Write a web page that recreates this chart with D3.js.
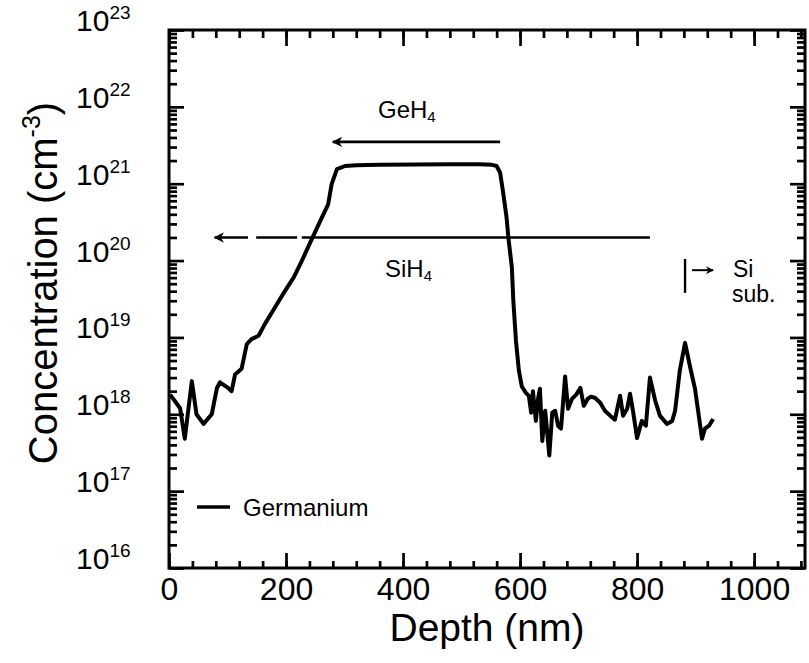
<!DOCTYPE html>
<html>
<head>
<meta charset="utf-8">
<script src="https://cdn.jsdelivr.net/npm/d3@7"></script>
<style>
  body { margin: 0; background: #fff; }
  svg { display: block; font-family: "Liberation Sans", Arial, Helvetica, sans-serif; }
</style>
</head>
<body>
<div id="graph"></div>
<script>
// SIMS depth profile
const depthNm = [
    2, 19, 27, 39, 47, 59, 73, 82, 87, 101, 107, 113, 124, 133, 141, 153, 164, 181, 198, 213,
    227, 244, 261, 272, 278, 287, 301, 320, 360, 420, 480, 530, 552, 560, 566, 571.5, 577, 580,
    586, 588.5, 593, 598, 603, 610, 615, 619, 622, 627, 631, 634, 638, 643, 650, 655, 660, 665,
    670, 677, 682, 689, 696, 703, 709, 716, 721, 728, 737, 745, 754, 762, 771, 776, 783, 788,
    793, 800, 808, 815, 822, 831, 839, 851, 860, 865, 873, 882, 891, 899, 911, 916, 923, 930
];
const germanium = [
    1.8e18, 1.2e18, 4.8e17, 2.7e18, 1.0e18, 7.5e17, 1.0e18, 2.2e18, 2.6e18, 2.2e18, 2.0e18, 3.3e18,
    3.9e18, 8.2e18, 9.5e18, 1.05e19, 1.5e19, 2.45e19, 4.0e19, 6.0e19, 9.9e19, 1.9e20, 3.6e20, 5.4e20,
    9.9e20, 1.55e21, 1.7e21, 1.74e21, 1.76e21, 1.78e21, 1.79e21, 1.79e21, 1.76e21, 1.7e21, 1.39e21,
    7.3e20, 3.6e20, 2.0e20, 8.1e19, 3.0e19, 9.0e18, 3.7e18, 2.3e18, 1.9e18, 1.74e18, 1.05e18, 2.0e18,
    8.2e17, 1.64e18, 2.15e18, 4.5e17, 1.11e18, 2.9e17, 1.05e18, 1.11e18, 7.1e17, 6.5e17, 3.1e18,
    1.18e18, 1.6e18, 1.8e18, 2.2e18, 1.29e18, 1.6e18, 1.69e18, 1.64e18, 1.41e18, 1.11e18, 9.6e17,
    8.5e17, 1.74e18, 9.6e17, 1.18e18, 1.85e18, 1.11e18, 4.9e17, 8.2e17, 7.1e17, 3.0e18, 1.5e18,
    9.6e17, 7.5e17, 8.2e17, 1.11e18, 3.7e18, 8.5e18, 4.0e18, 2.15e18, 4.8e17, 6.5e17, 7.1e17, 8.7e17
];

const xTickLabels = [0, 200, 400, 600, 800, 1000];
const yExponents = [16, 17, 18, 19, 20, 21, 22, 23];

// annotations, in data units (nm, cm^-3)
const gehArrow = [566, 280];
const gehLevel = 3.5e21;
const sihArrow = [822, 78];
const sihGaps = [[135, 149], [219, 227]];
const sihLevel = 2.0e20;
const subMarker = [882, 1.05e20, 3.8e19];
const subArrow = [894, 930, 7.5e19];

const width = 809;
const height = 663;
const xMax = 1087;

const xScale = d3.scaleLinear()
    .domain([0, xMax])
    .range([169, 805]);

const yScale = d3.scaleLog()
    .domain([1e16, 1e23])
    .range([568, 30]);

const svg = d3.select('#graph')
    .append('svg')
    .attr('width', width)
    .attr('height', height);

const [x0, x1] = xScale.range();
const [y0, y1] = yScale.range();

// tick positions
const xMinor = d3.range(0, xMax, 40);
const yMinor = [];
yExponents.slice(0, -1).forEach(e => {
    for (let k = 2; k < 10; k++) yMinor.push(k * Math.pow(10, e));
});
const yMajor = yExponents.map(e => Math.pow(10, e));
const noLabel = () => '';

const styleTicks = g => {
    g.select('.domain').remove();
    g.selectAll('line').attr('stroke', '#000').attr('stroke-width', 2.7);
};

const addAxis = (axis, transform) => svg.append('g')
    .attr('transform', transform)
    .call(axis)
    .call(styleTicks);

// minor + major ticks on all four sides, pointing in
addAxis(d3.axisBottom(xScale).tickValues(xMinor).tickSize(-7).tickFormat(noLabel), `translate(0,${y0})`);
addAxis(d3.axisTop(xScale).tickValues(xMinor).tickSize(-8).tickFormat(noLabel), `translate(0,${y1})`);
addAxis(d3.axisTop(xScale).tickValues(xTickLabels).tickSize(-16).tickFormat(noLabel), `translate(0,${y1})`);
addAxis(d3.axisLeft(yScale).tickValues(yMinor).tickSize(-8).tickFormat(noLabel), `translate(${x0},0)`);
addAxis(d3.axisLeft(yScale).tickValues(yMajor).tickSize(-15).tickFormat(noLabel), `translate(${x0},0)`);
addAxis(d3.axisRight(yScale).tickValues(yMinor).tickSize(-8).tickFormat(noLabel), `translate(${x1},0)`);
addAxis(d3.axisRight(yScale).tickValues(yMajor).tickSize(-15).tickFormat(noLabel), `translate(${x1},0)`);

const xAxis = addAxis(
    d3.axisBottom(xScale).tickValues(xTickLabels).tickSize(-15).tickPadding(9).tickFormat(d3.format('d')),
    `translate(0,${y0})`
);
xAxis.attr('font-size', null).attr('font-family', null);
xAxis.selectAll('text').attr('font-size', 32).attr('fill', '#000');

// frame
svg.append('rect')
    .attr('x', x0).attr('y', y1)
    .attr('width', x1 - x0).attr('height', y0 - y1)
    .attr('fill', 'none')
    .attr('stroke', '#000')
    .attr('stroke-width', 3);

// y tick labels 10^n
const yLabels = svg.append('g')
    .selectAll('text')
    .data(yExponents)
    .join('text')
    .attr('x', 76)
    .attr('y', d => yScale(Math.pow(10, d)) + 1)
    .attr('font-size', 30);
yLabels.append('tspan').text('10');
yLabels.append('tspan').attr('dy', -12).attr('font-size', 19).text(d => d);

// axis titles
svg.append('text')
    .attr('x', (x0 + x1) / 2)
    .attr('y', 641)
    .attr('text-anchor', 'middle')
    .attr('font-size', 39)
    .text('Depth (nm)');

const yTitle = svg.append('text')
    .attr('transform', `translate(57,${(y0 + y1) / 2 - 16}) rotate(-90)`)
    .attr('text-anchor', 'middle')
    .attr('font-size', 40);
yTitle.append('tspan').text('Concentration (cm');
yTitle.append('tspan').attr('dy', -17).attr('font-size', 25).text('-3');
yTitle.append('tspan').attr('dy', 17).text(')');

// arrowhead, pointing along the line direction
svg.append('defs').append('marker')
    .attr('id', 'head')
    .attr('viewBox', '0 0 10 10')
    .attr('refX', 9).attr('refY', 5)
    .attr('markerWidth', 4.5).attr('markerHeight', 4)
    .attr('markerUnits', 'strokeWidth')
    .attr('orient', 'auto')
    .append('path')
    .attr('d', 'M10,5 L0,0 L3,5 L0,10 Z')
    .attr('fill', '#000');

// GeH4 arrow
svg.append('line')
    .attr('x1', xScale(gehArrow[0])).attr('x2', xScale(gehArrow[1]))
    .attr('y1', yScale(gehLevel)).attr('y2', yScale(gehLevel))
    .attr('stroke', '#000').attr('stroke-width', 2.6)
    .attr('marker-end', 'url(#head)');

// SiH4 arrow (short breaks near its head)
const sihBreaks = [sihArrow[0], ...sihGaps.slice().reverse().map(g => [g[1], g[0]]).flat(), sihArrow[1]];
const sihPieces = d3.range(0, sihBreaks.length, 2).map(i => [sihBreaks[i], sihBreaks[i + 1]]);
svg.append('g')
    .selectAll('line')
    .data(sihPieces)
    .join('line')
    .attr('x1', d => xScale(d[0])).attr('x2', d => xScale(d[1]))
    .attr('y1', yScale(sihLevel)).attr('y2', yScale(sihLevel))
    .attr('stroke', '#000').attr('stroke-width', 2.6)
    .attr('marker-end', (d, i) => i === sihPieces.length - 1 ? 'url(#head)' : null);

// substrate marker
svg.append('line')
    .attr('x1', xScale(subMarker[0])).attr('x2', xScale(subMarker[0]))
    .attr('y1', yScale(subMarker[1])).attr('y2', yScale(subMarker[2]))
    .attr('stroke', '#000').attr('stroke-width', 2.4);
svg.append('line')
    .attr('x1', xScale(subArrow[0])).attr('x2', xScale(subArrow[1]))
    .attr('y1', yScale(subArrow[2])).attr('y2', yScale(subArrow[2]))
    .attr('stroke', '#000').attr('stroke-width', 2)
    .attr('marker-end', 'url(#head)');

// chemical labels
const formula = (base, sub, x, y) => {
    const t = svg.append('text').attr('x', x).attr('y', y).attr('font-size', 24);
    t.append('tspan').text(base);
    t.append('tspan').attr('dy', 4).attr('font-size', 15).text(sub);
};
formula('GeH', '4', 378, 118);
formula('SiH', '4', 385, 277);

svg.append('text').attr('x', 733).attr('y', 277).attr('font-size', 23).text('Si');
svg.append('text').attr('x', 732).attr('y', 302).attr('font-size', 23).text('sub.');

// legend
svg.append('line')
    .attr('x1', 197).attr('x2', 230)
    .attr('y1', 507).attr('y2', 507)
    .attr('stroke', '#000').attr('stroke-width', 3.5);
svg.append('text').attr('x', 243).attr('y', 516).attr('font-size', 24).text('Germanium');

// the profile
const profile = d3.line()
    .x((d, i) => xScale(depthNm[i]))
    .y(d => yScale(d));

svg.append('path')
    .datum(germanium)
    .attr('d', profile)
    .attr('fill', 'none')
    .attr('stroke', '#000')
    .attr('stroke-width', 4)
    .attr('stroke-linejoin', 'round');
</script>
</body>
</html>
